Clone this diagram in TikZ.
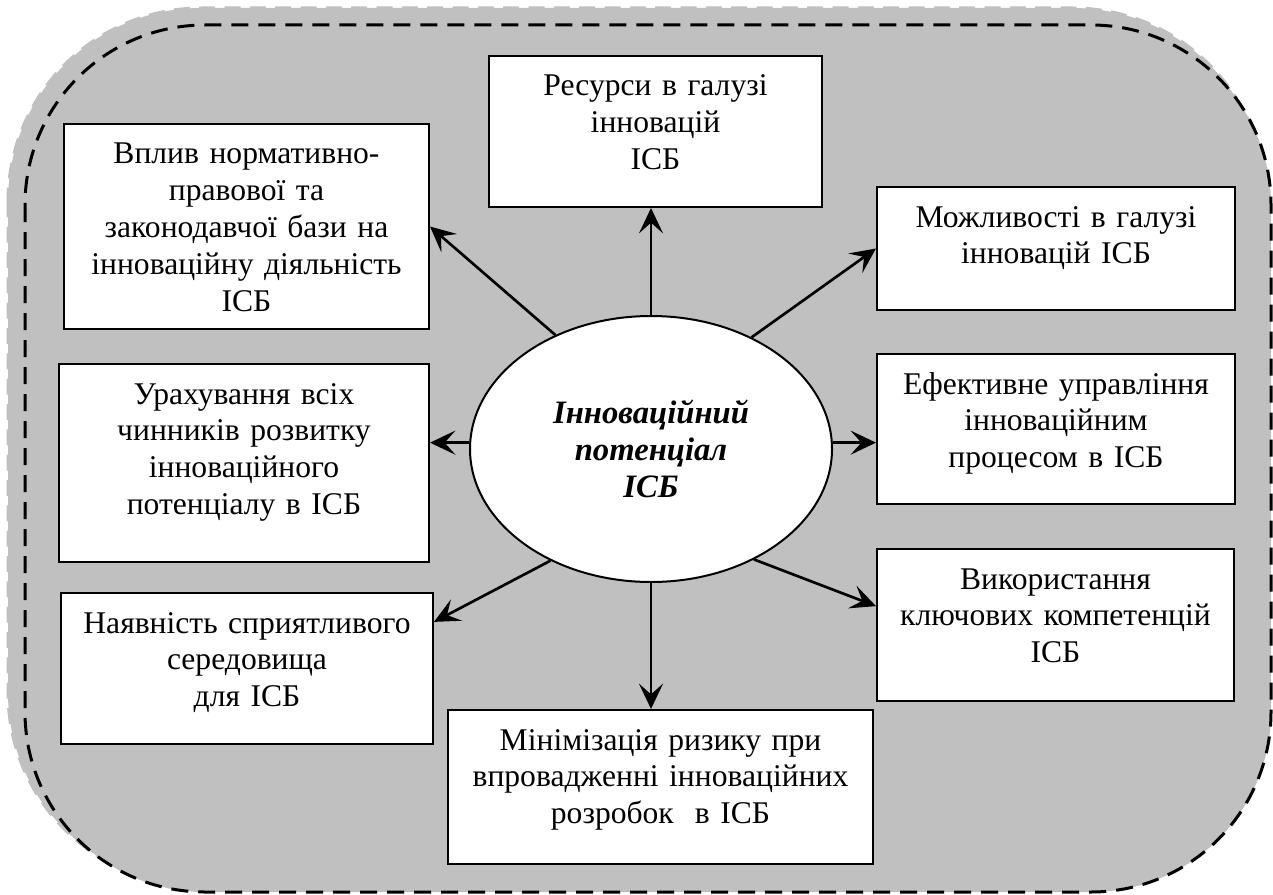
\documentclass[tikz,border=0pt]{standalone}
\usepackage{fontspec}
\setmainfont{Liberation Serif}
\usetikzlibrary{shapes.geometric,arrows.meta}
\definecolor{bggrey}{RGB}{192,192,192}

\tikzset{every picture/.style={line width=0.75pt}}
\tikzset{
  blk/.style={draw, fill=white, line width=1.5pt, inner sep=0pt, anchor=north west, align=center, text height=30pt, font=\fontsize{23.7pt}{27.7pt}\selectfont},
  arr/.style={line width=2pt, -{Stealth[length=19pt,width=18pt,inset=8pt]}},
}

\begin{document}
\begin{tikzpicture}[x=0.75pt,y=0.75pt,yscale=-1,xscale=1]
\useasboundingbox (0,0) rectangle (1273,895);

%Shape: Rounded Rect (shadow)
\draw [draw=bggrey, fill=bggrey, line width=2.25pt, dash pattern=on 12pt off 7pt, rounded corners=145pt] (8,8) rectangle (1266,886);
%Shape: Rounded Rect
\draw [draw=black, fill=bggrey, line width=2.25pt, dash pattern=on 12.75pt off 7.5pt, rounded corners=135pt] (25,25) rectangle (1271,892);

%Shape: Ellipse
\node [ellipse, draw, fill=white, line width=1.5pt, minimum width=271.5pt, minimum height=199.5pt, inner sep=0pt, align=center, font=\fontsize{24.5pt}{27.7pt}\selectfont\bfseries\itshape] (pot) at (651,449) {Інноваційний\\потенціал\\ІСБ};

%Shape: Rectangles
\node [blk, text width=249.75pt, text depth=83.25pt] (res) at (488,55) {Ресурси в галузі\\інновацій\\ІСБ};
\node [blk, text width=273.75pt, text depth=123.75pt] (vplyv) at (63,123) {Вплив нормативно-\\правової та\\законодавчої бази на\\інноваційну діяльність\\ІСБ};
\node [blk, text width=268.5pt, text depth=62.25pt] (mozh) at (876,186) {Можливості в галузі\\інновацій ІСБ};
\node [blk, text width=268.5pt, text depth=82.5pt] (efek) at (876,353) {Ефективне управління\\інноваційним\\процесом в ІСБ};
\node [blk, text width=277.5pt, text depth=118.5pt] (urakh) at (58,363) {Урахування всіх\\чинників розвитку\\інноваційного\\потенціалу в ІСБ};
\node [blk, text width=267.75pt, text depth=84pt] (vykor) at (876,548) {Використання\\ключових компетенцій\\ІСБ};
\node [blk, text width=279pt, text depth=83.25pt] (nayav) at (60,592) {Наявність сприятливого\\середовища\\для ІСБ};
\node [blk, text width=318.75pt, text depth=85.5pt] (minim) at (447,709) {Мінімізація ризику при\\впровадженні інноваційних\\розробок\ \ в ІСБ};

%Straight Lines
\draw [arr] (pot) -- (pot |- res.south);
\draw [arr] (pot) -- (pot |- minim.north);
\draw [arr] (pot.178) -- (pot.178 -| urakh.east);
\draw [arr] (pot.2) -- (pot.2 -| efek.west);
\draw [arr] (pot.130) -- (vplyv.east);
\draw [arr] (pot.48) -- (mozh.west);
\draw [arr] (pot.228) -- (nayav.14);
\draw [arr] (pot.-47) -- (vykor.174);

\end{tikzpicture}
\end{document}
